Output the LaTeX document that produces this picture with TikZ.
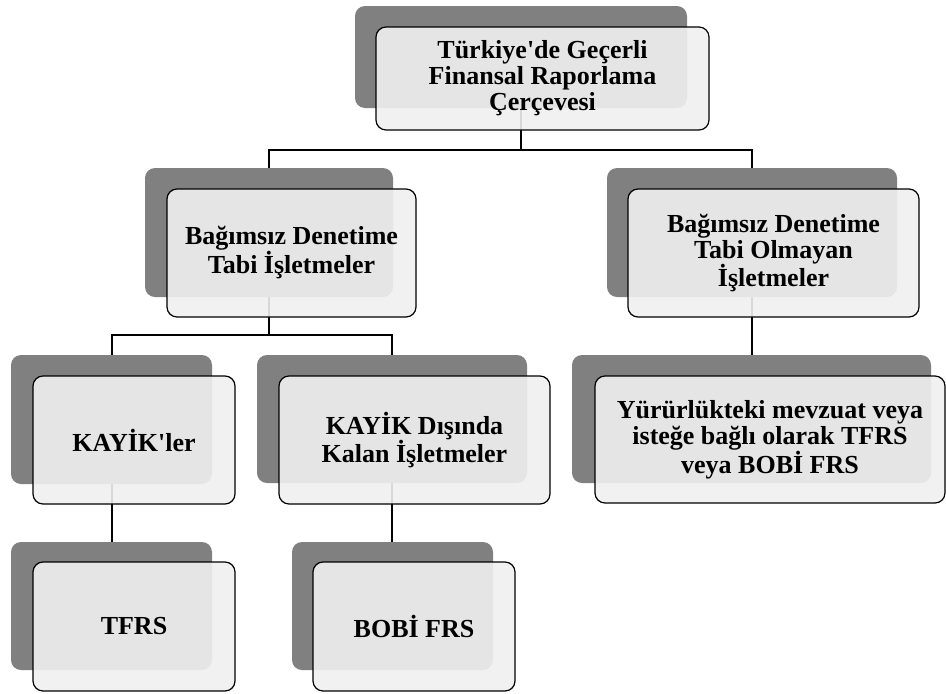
\documentclass[tikz,border=0pt]{standalone}
\usepackage{fontspec}
\newfontfamily\trfont{Liberation Serif}
\usepackage{tikz}
\usetikzlibrary{positioning}
\usetikzlibrary{calc}
\pgfdeclarelayer{bg}
\pgfsetlayers{bg,main}

\begin{document}
\begin{tikzpicture}[
  x=1pt, y=-1pt,
  font=\trfont\bfseries\fontsize{26}{26}\selectfont,
  back/.style={fill=black!50, rounded corners=10pt, inner sep=0pt},
  card/.style={draw, line width=1.2pt, rounded corners=10pt, fill=black!6, fill opacity=0.9, text opacity=1, align=center, inner sep=0pt},
  link/.style={line width=2pt}
]
\useasboundingbox (0,0) rectangle (946,694);

% grey back plates
\node[back, minimum width=332pt, minimum height=102pt] (rootB) at (521,57) {};
\node[back, minimum width=248pt, minimum height=129pt] (auditB) at (269,232.5) {};
\node[back, minimum width=290pt, minimum height=129pt] (nonauditB) at (752,232.5) {};
\node[back, minimum width=201pt, minimum height=129pt] (kayikB) at (111.5,419.5) {};
\node[back, minimum width=270pt, minimum height=128pt] (otherB) at (392,419) {};
\node[back, minimum width=359pt, minimum height=128pt] (optB) at (751.5,419) {};
\node[back, minimum width=201pt, minimum height=128pt] (tfrsB) at (111.5,606) {};
\node[back, minimum width=201pt, minimum height=128pt] (bobiB) at (392.5,606) {};

% front cards
\node[card, minimum width=333pt, minimum height=103pt] (root) at (542.5,78.5) {Türkiye'de Geçerli\\Finansal Raporlama\\Çerçevesi};
\node[card, minimum width=249pt, minimum height=128pt] (audit) at (291.5,253) {Bağımsız Denetime\\Tabi İşletmeler};
\node[card, minimum width=291pt, minimum height=128pt] (nonaudit) at (773.5,253) {Bağımsız Denetime\\Tabi Olmayan\\İşletmeler};
\node[card, minimum width=202pt, minimum height=128pt] (kayik) at (134,440) {KAYİK'ler};
\node[card, minimum width=271pt, minimum height=128pt] (other) at (414.5,440) {KAYİK Dışında\\Kalan İşletmeler};
\node[card, minimum width=350pt, minimum height=127pt] (opt) at (770,439.5) {Yürürlükteki mevzuat veya\\isteğe bağlı olarak TFRS\\veya BOBİ FRS};
\node[card, minimum width=202pt, minimum height=129pt] (tfrs) at (134,626.5) {TFRS};
\node[card, minimum width=202pt, minimum height=129pt] (bobi) at (414,626.5) {BOBİ FRS};

% connectors behind the plates
\coordinate (busA) at (521,150);
\coordinate (busB) at (269,335);
\begin{pgfonlayer}{bg}
\draw[link] (rootB.center) -- (busA);
\draw[link] (auditB.north) |- (busA) -| (nonauditB.north);
\draw[link] (auditB.center) -- (busB);
\draw[link] (kayikB.north) |- (busB) -| (otherB.north);
\draw[link] (nonauditB.center) -- (nonauditB.center |- optB.north);
\draw[link] (kayikB.center) -- (tfrsB.north);
\draw[link] (otherB.center) -- (otherB.center |- bobiB.north);
\end{pgfonlayer}

\end{tikzpicture}
\end{document}
